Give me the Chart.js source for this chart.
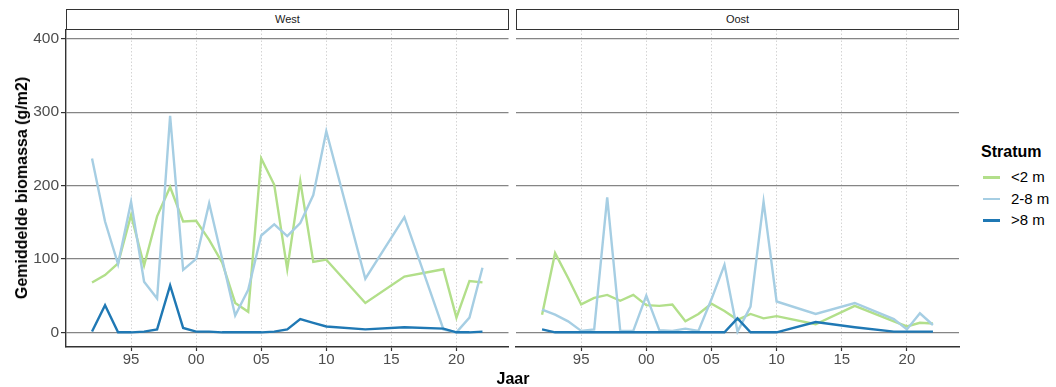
<!DOCTYPE html>
<html>
<head>
<meta charset="utf-8">
<script src="https://cdn.jsdelivr.net/npm/chart.js@4/dist/chart.umd.min.js"></script>
<style>
  body { margin: 0; background: #fff; font-family: "Liberation Sans", Arial, sans-serif; }
  #wrap { position: relative; width: 1056px; height: 387px; overflow: hidden; }
  canvas { position: absolute; top: 0; }
  .strip { position: absolute; top: 9px; height: 21px; box-sizing: border-box; border: 1.4px solid #333;
           background: #fff; font-size: 11px; color: #1a1a1a; text-align: center; line-height: 18px; }
  .ytitle { position: absolute; left: 22px; top: 188px; transform: translate(-50%, -50%) rotate(-90deg);
            font-weight: bold; font-size: 16px; white-space: nowrap; color: #000; }
  .xtitle { position: absolute; left: 513px; top: 379px; transform: translate(-50%, -50%);
            font-weight: bold; font-size: 16px; color: #000; }
  .legend { position: absolute; left: 981px; top: 143px; color: #000; }
  .legend .ttl { font-weight: bold; font-size: 16px; margin-bottom: 5px; }
  .legend .item { position: relative; height: 21.5px; font-size: 15px; line-height: 21.5px; padding-left: 30px; }
  .legend .item span { position: absolute; left: 2px; top: 10px; width: 17px; height: 2.5px; }
</style>
</head>
<body>
<div id="wrap">
  <canvas id="west" width="512" height="387" style="left:0px"></canvas>
  <canvas id="oost" width="448" height="387" style="left:512px"></canvas>
  <div class="strip" style="left:66px;width:443px">West</div>
  <div class="strip" style="left:516px;width:443px">Oost</div>
  <div class="ytitle">Gemiddelde biomassa (g/m2)</div>
  <div class="xtitle">Jaar</div>
  <div class="legend" id="legend"></div>
</div>
<script>
var strata = ["<2 m", "2-8 m", ">8 m"];
var colours = ["#b2df8a", "#a6cee3", "#1f78b4"];

var westYears = [1992, 1993, 1994, 1995, 1996, 1997, 1998, 1999, 2000, 2001, 2002, 2003, 2004,
                 2005, 2006, 2007, 2008, 2009, 2010, 2013, 2016, 2019, 2020, 2021, 2022];
var westShallow = [68, 78, 94, 160, 91, 158, 198, 151, 152, 126, 95, 40, 28,
                   237, 201, 86, 206, 96, 99, 40, 76, 86, 20, 70, 68];
var westMid = [237, 151, 93, 178, 69, 46, 295, 85, 100, 176, 100, 23, 58,
               132, 147, 131, 149, 187, 274, 73, 157, 4, 0, 20, 88];
var westDeep = [1, 37, 0, 0, 1, 4, 64, 6, 1, 1, 0, 0, 0,
                0, 1, 4, 18, 13, 8, 4, 7, 5, 0, 0, 1];

var oostYears = [1992, 1993, 1994, 1995, 1996, 1997, 1998, 1999, 2000, 2001, 2002, 2003, 2004,
                 2005, 2006, 2007, 2008, 2009, 2010, 2013, 2016, 2019, 2020, 2021, 2022];
var oostShallow = [24, 108, 74, 38, 47, 51, 43, 51, 37, 36, 38, 15, 25,
                   39, 29, 17, 25, 19, 22, 11, 36, 15, 8, 13, 12];
var oostMid = [31, 24, 15, 2, 4, 184, 2, 2, 50, 3, 2, 5, 2,
               45, 92, 1, 35, 178, 42, 25, 40, 18, 4, 26, 10];
var oostDeep = [4, 0, 0, 0, 0, 0, 0, 0, 0, 0, 0, 0, 0,
                0, 0, 19, 0, 0, 0, 14, 7, 1, 1, 1, 1];

var yTicks = [0, 100, 200, 300, 400];
var xTicks = [1995, 2000, 2005, 2010, 2015, 2020];

function pts(years, vals) {
  return years.map(function (y, i) { return { x: y, y: vals[i] }; });
}

function makeSets(years, series) {
  return series.map(function (vals, i) {
    return {
      label: strata[i],
      data: pts(years, vals),
      borderColor: colours[i],
      backgroundColor: colours[i],
      borderWidth: 2.4,
      pointRadius: 0,
      tension: 0,
      order: 3 - i
    };
  });
}

function makeChart(id, sets, showY, padLeft, padRight) {
  return new Chart(document.getElementById(id), {
    type: "line",
    data: { datasets: sets },
    options: {
      responsive: false,
      animation: false,
      events: [],
      layout: { padding: { top: 30, left: padLeft, right: padRight, bottom: 0 } },
      plugins: { legend: { display: false }, tooltip: { enabled: false } },
      scales: {
        x: {
          type: "linear", min: 1990, max: 2024, position: "bottom",
          afterBuildTicks: function (ax) { ax.ticks = xTicks.map(function (v) { return { value: v }; }); },
          afterFit: function (ax) { ax.height = 40; },
          grid: { drawOnChartArea: false, drawTicks: true, tickLength: 4, tickColor: "#333", tickWidth: 1.2 },
          border: { display: true, color: "#333", width: 1.6 },
          ticks: {
            color: "#4d4d4d", padding: 0, maxRotation: 0,
            font: { family: "Liberation Sans", size: 15 },
            callback: function (v) { return String(v % 100).padStart(2, "0"); }
          }
        },
        xg: {
          type: "linear", min: 1990, max: 2024, position: "top",
          afterBuildTicks: function (ax) { ax.ticks = xTicks.map(function (v) { return { value: v }; }); },
          afterFit: function (ax) { ax.height = 0; },
          grid: { color: "#cfcfcf", lineWidth: 0.9, drawTicks: false },
          border: { display: false, dash: [1.5, 2] },
          ticks: { display: false }
        },
        y: {
          min: -20, max: 412,
          afterBuildTicks: function (ax) { ax.ticks = yTicks.map(function (v) { return { value: v }; }); },
          afterFit: function (ax) { ax.width = showY ? 66 : 0; },
          grid: { color: "#858585", lineWidth: 1.2, drawTicks: showY, tickLength: 5, tickColor: "#333" },
          border: { display: showY, color: "#333", width: 1.4 },
          ticks: {
            display: showY, color: "#4d4d4d", padding: 2,
            font: { family: "Liberation Sans", size: 15.5 }
          }
        }
      }
    }
  });
}

makeChart("west", makeSets(westYears, [westShallow, westMid, westDeep]), true, 0, 3.5);
makeChart("oost", makeSets(oostYears, [oostShallow, oostMid, oostDeep]), false, 4, 1);

var lg = document.getElementById("legend");
var html = '<div class="ttl">Stratum</div>';
strata.forEach(function (s, i) {
  html += '<div class="item"><span style="background:' + colours[i] + '"></span>' +
          s.replace("<", "&lt;").replace(">", "&gt;") + '</div>';
});
lg.innerHTML = html;
</script>
</body>
</html>
